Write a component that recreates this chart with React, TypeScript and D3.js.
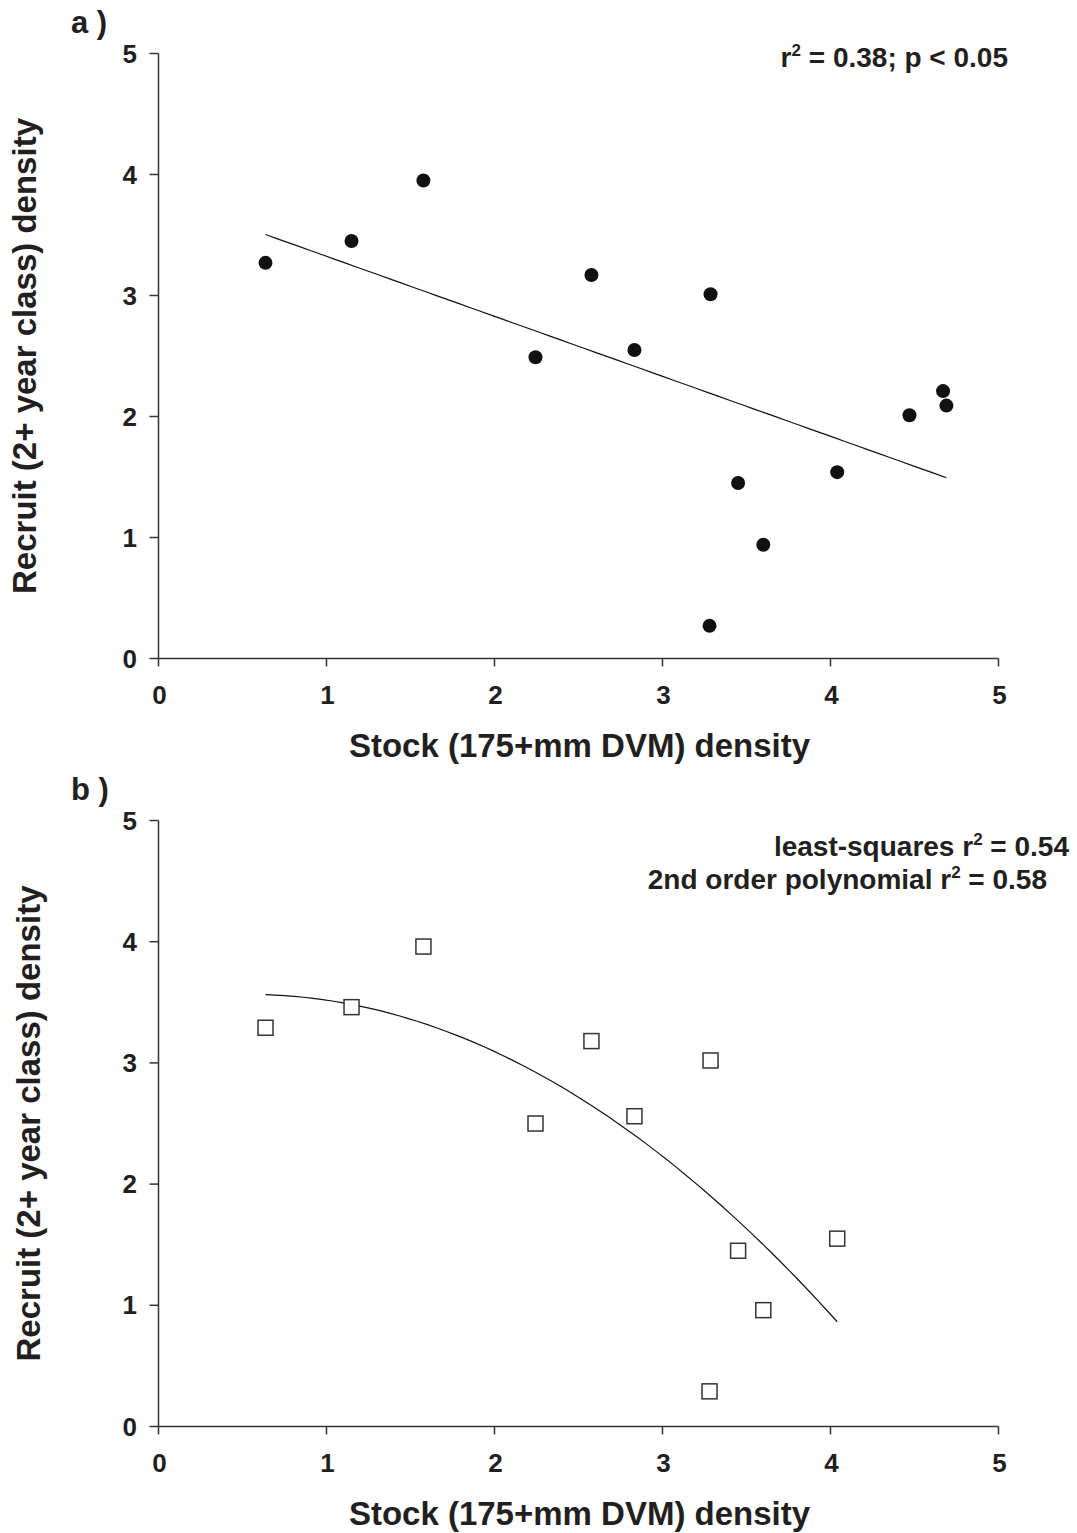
import React from "react";
import * as d3 from "d3";

// Stock (175+mm DVM) density and recruit (2+ year class) density, panel a
const stockA = [0.637, 1.149, 1.577, 2.244, 2.577, 2.833, 3.286, 3.28, 3.45, 3.6, 4.04, 4.47, 4.67, 4.69];
const recruitA = [3.27, 3.45, 3.95, 2.49, 3.17, 2.55, 3.01, 0.27, 1.45, 0.94, 1.54, 2.01, 2.21, 2.09];
// panel b
const stockB = [0.637, 1.149, 1.577, 2.244, 2.577, 2.833, 3.286, 3.28, 3.45, 3.6, 4.04];
const recruitB = [3.29, 3.46, 3.96, 2.5, 3.18, 2.56, 3.02, 0.29, 1.45, 0.96, 1.55];

const ticks = [0, 1, 2, 3, 4, 5];
const xTitle = "Stock (175+mm DVM) density";
const yTitle = "Recruit (2+ year class) density";

const FONT = "'Liberation Sans', Arial, Helvetica, sans-serif";
const TXT = "#231f20";
const AX = "#333";

function linFit(xs: number[], ys: number[]) {
  const mx = d3.mean(xs)!, my = d3.mean(ys)!;
  let sxy = 0, sxx = 0;
  xs.forEach((x, i) => { sxy += (x - mx) * (ys[i] - my); sxx += (x - mx) ** 2; });
  const b = sxy / sxx;
  return (x: number) => my + b * (x - mx);
}

function quadFit(xs: number[], ys: number[]) {
  // normal equations for y = a + b x + c x^2
  const S = (p: number) => d3.sum(xs, (x) => x ** p);
  const T = (p: number) => d3.sum(xs, (x, i) => x ** p * ys[i]);
  const M = [
    [S(0), S(1), S(2), T(0)],
    [S(1), S(2), S(3), T(1)],
    [S(2), S(3), S(4), T(2)],
  ];
  for (let i = 0; i < 3; i++) {
    for (let k = i + 1; k < 3; k++) {
      const f = M[k][i] / M[i][i];
      for (let j = i; j < 4; j++) M[k][j] -= f * M[i][j];
    }
  }
  const c = M[2][3] / M[2][2];
  const b = (M[1][3] - M[1][2] * c) / M[1][1];
  const a = (M[0][3] - M[0][1] * b - M[0][2] * c) / M[0][0];
  return (x: number) => a + b * x + c * x * x;
}

const x = d3.scaleLinear().domain([0, 5]).range([158.5, 998.5]);

function Panel({ top, bottom, label, xs, ys, kind, labelX }: any) {
  const y = d3.scaleLinear().domain([0, 5]).range([bottom, top]);
  const fit = kind === "circle" ? linFit(xs, ys) : quadFit(xs, ys);
  const [x0, x1] = d3.extent(xs) as [number, number];
  const pts = d3.range(0, 61).map((i) => x0 + ((x1 - x0) * i) / 60);
  const line = d3.line<number>().x((d) => x(d)).y((d) => y(fit(d)));
  const mid = (top + bottom) / 2;
  return (
    <g>
      <text x={71} y={top - 21} fontSize={31} fontWeight="bold" fill={TXT} fontFamily={FONT}>{label}</text>
      {/* axes */}
      <line x1={x(0)} x2={x(0)} y1={y(5)} y2={y(0)} stroke={AX} strokeWidth={1.5} />
      <line x1={x(0)} x2={x(5)} y1={y(0)} y2={y(0)} stroke={AX} strokeWidth={1.5} />
      {ticks.map((t) => (
        <g key={"y" + t}>
          <line x1={x(0) - 9} x2={x(0)} y1={y(t)} y2={y(t)} stroke={AX} strokeWidth={1.5} />
          <text x={137} y={y(t) + 9} textAnchor="end" fontSize={26} fontWeight="bold" fill={TXT} fontFamily={FONT}>{t}</text>
        </g>
      ))}
      {ticks.map((t) => (
        <g key={"x" + t}>
          <line x1={x(t)} x2={x(t)} y1={y(0)} y2={y(0) + 8} stroke={AX} strokeWidth={1.5} />
          <text x={x(t) + 1} y={y(0) + 45} textAnchor="middle" fontSize={26} fontWeight="bold" fill={TXT} fontFamily={FONT}>{t}</text>
        </g>
      ))}
      <text x={(x(0) + x(5)) / 2 + 1} y={y(0) + 98} textAnchor="middle" fontSize={33} fontWeight="bold" fill={TXT} fontFamily={FONT}>{xTitle}</text>
      <text transform={`translate(${labelX},${mid}) rotate(-90)`} textAnchor="middle" fontSize={33} fontWeight="bold" fill={TXT} fontFamily={FONT}>{yTitle}</text>
      <path d={line(pts) || ""} fill="none" stroke="#111" strokeWidth={1.2} />
      {xs.map((v: number, i: number) =>
        kind === "circle" ? (
          <circle key={i} cx={x(v)} cy={y(ys[i])} r={7} fill="#111" />
        ) : (
          <rect key={i} x={x(v) - 7.5} y={y(ys[i]) - 7.5} width={15} height={15} fill="white" stroke="#333" strokeWidth={1.5} />
        )
      )}
    </g>
  );
}

export default function App() {
  return (
    <svg width={1077} height={1533} style={{ position: "absolute", left: 0, top: 0, background: "white" }}>
      <rect width={1077} height={1533} fill="white" />
      <Panel top={53.5} bottom={658.5} label="a )" xs={stockA} ys={recruitA} kind="circle" labelX={36} />
      <Panel top={820.5} bottom={1426.5} label="b )" xs={stockB} ys={recruitB} kind="square" labelX={40} />
      <text x={1008} y={67} textAnchor="end" fontSize={28} fontWeight="bold" fill={TXT} fontFamily={FONT}>
        r<tspan dy={-11} fontSize={17}>2</tspan><tspan dy={11}> = 0.38; p &lt; 0.05</tspan>
      </text>
      <text x={1069} y={856} textAnchor="end" fontSize={28} fontWeight="bold" fill={TXT} fontFamily={FONT}>
        least-squares r<tspan dy={-11} fontSize={17}>2</tspan><tspan dy={11}> = 0.54</tspan>
      </text>
      <text x={1047} y={889} textAnchor="end" fontSize={28} fontWeight="bold" fill={TXT} fontFamily={FONT}>
        2nd order polynomial r<tspan dy={-11} fontSize={17}>2</tspan><tspan dy={11}> = 0.58</tspan>
      </text>
    </svg>
  );
}
